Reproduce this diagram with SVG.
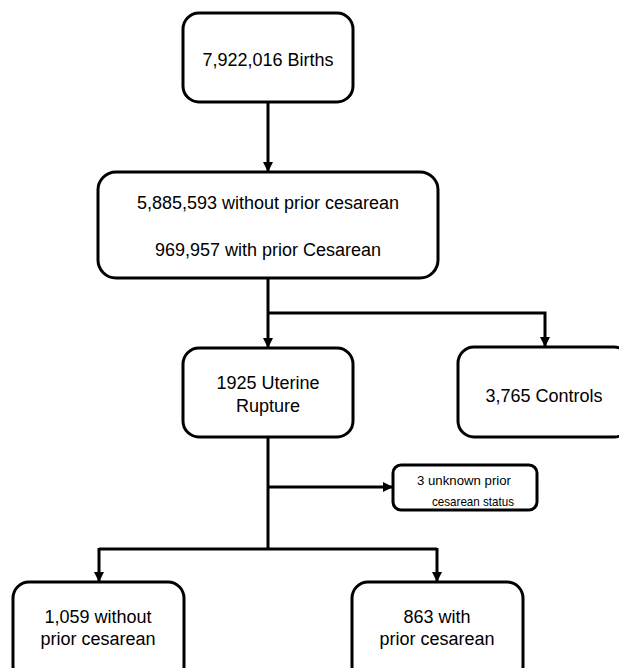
<svg xmlns="http://www.w3.org/2000/svg" width="619" height="668" viewBox="0 0 619 668">
<defs>
<marker id="ah" markerWidth="10" markerHeight="10" refX="9" refY="5" orient="auto" markerUnits="userSpaceOnUse" viewBox="0 0 10 10">
<path d="M0,0 L10,5 L0,10 z" fill="#000"/>
</marker>
<style>
.box{fill:#fff;stroke:#000;stroke-width:3}
.t{font-family:"Liberation Sans",Arial,sans-serif;font-size:18px;fill:#000;text-anchor:middle}
.s{font-family:"Liberation Sans",Arial,sans-serif;font-size:13.5px;fill:#000}
.c{fill:none;stroke:#000;stroke-width:3}
</style>
</defs>
<rect width="619" height="668" fill="#fff"/>
<g id="connectors">
<path class="c" d="M268,102 V171" marker-end="url(#ah)"/>
<path class="c" d="M268,278 V347" marker-end="url(#ah)"/>
<path class="c" d="M268,313 H545 V346" marker-end="url(#ah)"/>
<path class="c" d="M268,437 V549"/>
<path class="c" d="M268,487 H392" marker-end="url(#ah)"/>
<path class="c" d="M99,549 H437"/>
<path class="c" d="M99,548 V581" marker-end="url(#ah)"/>
<path class="c" d="M437,548 V581" marker-end="url(#ah)"/>
</g>
<g id="births">
<rect class="box" x="183" y="13" width="170" height="89" rx="16"/>
<text class="t" x="268" y="66">7,922,016 Births</text>
</g>
<g id="cesarean-status">
<rect class="box" x="98" y="172" width="340" height="106" rx="18"/>
<text class="t" x="268" y="209">5,885,593 without prior cesarean</text>
<text class="t" x="268" y="256">969,957 with prior Cesarean</text>
</g>
<g id="uterine-rupture">
<rect class="box" x="183" y="348" width="170" height="89" rx="16"/>
<text class="t" x="268" y="389">1925 Uterine</text>
<text class="t" x="268" y="412">Rupture</text>
</g>
<g id="controls">
<rect class="box" x="458" y="347" width="172" height="90" rx="16"/>
<text class="t" x="544" y="402">3,765 Controls</text>
</g>
<g id="unknown">
<rect class="box" x="393" y="465" width="144" height="45" rx="8"/>
<text class="s" x="417" y="485" textLength="94" lengthAdjust="spacingAndGlyphs">3 unknown prior</text>
<text class="s" x="432" y="506" textLength="82" lengthAdjust="spacingAndGlyphs">cesarean status</text>
</g>
<g id="without-prior">
<rect class="box" x="13" y="582" width="171" height="100" rx="16"/>
<text class="t" x="98" y="623">1,059 without</text>
<text class="t" x="98" y="645">prior cesarean</text>
</g>
<g id="with-prior">
<rect class="box" x="352" y="582" width="171" height="100" rx="16"/>
<text class="t" x="437" y="623">863 with</text>
<text class="t" x="437" y="645">prior cesarean</text>
</g>
</svg>
